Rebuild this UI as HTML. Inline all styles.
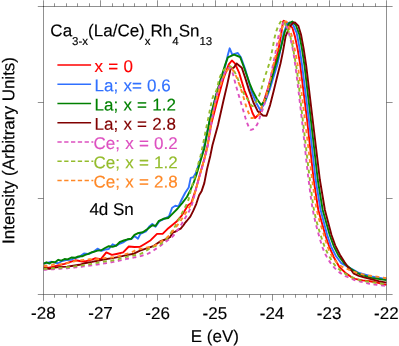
<!DOCTYPE html>
<html><head><meta charset="utf-8"><title>chart</title>
<style>
html,body{margin:0;padding:0;background:#fff;}
body{width:399px;height:346px;overflow:hidden;position:relative;font-family:"Liberation Sans",sans-serif;}
</style></head><body>
<svg width="399" height="346" viewBox="0 0 399 346" style="position:absolute;left:0;top:0;will-change:transform;transform:translateZ(0)">
<defs><clipPath id="cp"><rect x="43.5" y="6.5" width="343.6" height="288.0"/></clipPath></defs>
<g clip-path="url(#cp)" fill="none" stroke-width="1.9" stroke-linejoin="round">
<path d="M43.5,267.3 L48.3,267.8 L53.3,266.6 L59.5,265.0 L64.6,263.8 L68.9,262.3 L72.1,261.3 L75.2,260.3 L78.3,260.7 L82.1,261.5 L85.2,261.3 L89.0,260.3 L92.0,259.6 L95.0,258.3 L100.7,259.3 L106.3,252.4 L111.9,254.9 L117.6,253.7 L123.2,252.4 L128.8,246.5 L134.5,247.0 L140.0,246.8 L144.3,244.2 L150.7,240.2 L157.0,233.9 L162.6,233.9 L167.4,229.1 L172.1,225.2 L176.9,221.2 L181.7,215.6 L185.6,209.3 L188.0,205.3 L191.3,203.0 L195.6,190.1 L199.9,174.5 L204.3,158.9 L207.7,145.0 L211.0,125.0 L217.5,100.0 L223.6,78.1 L228.8,64.3 L231.9,60.5 L234.9,63.4 L239.2,72.9 L244.4,90.3 L247.3,97.3 L252.5,113.0 L255.1,118.0 L259.5,113.8 L263.8,101.5 L267.3,90.4 L270.3,80.0 L274.5,66.0 L278.8,48.0 L281.1,34.5 L283.1,21.5 L283.7,20.7 L288.0,23.8 L292.3,27.6 L294.9,36.3 L297.5,48.4 L300.1,64.0 L307.1,120.0 L313.7,180.0 L318.3,210.0 L325.3,235.0 L329.1,246.3 L333.8,257.2 L339.4,267.0 L346.0,273.4 L351.0,276.8 L355.0,278.9 L362.6,280.4 L370.0,281.2 L378.0,282.8 L386.4,284.8" stroke="#ff0000"/>
<path d="M43.5,263.5 L47.0,263.0 L50.8,261.8 L54.0,262.5 L58.3,263.2 L62.0,261.0 L66.0,260.0 L70.8,259.8 L75.0,258.0 L79.0,257.0 L84.0,253.5 L88.0,254.0 L90.0,253.5 L93.8,251.5 L97.5,248.7 L101.3,250.8 L105.0,249.5 L108.8,249.0 L112.6,244.3 L116.3,245.8 L120.1,243.5 L123.8,242.0 L127.6,239.5 L131.4,239.0 L134.5,236.0 L138.0,238.7 L140.4,233.9 L145.9,231.5 L149.1,226.7 L152.3,223.9 L155.5,226.7 L159.4,221.2 L164.2,218.8 L169.0,216.4 L172.1,207.7 L175.3,205.8 L178.5,206.4 L181.7,199.5 L185.2,192.7 L188.7,187.5 L190.7,177.9 L193.5,177.1 L195.6,173.6 L199.3,163.0 L203.3,150.0 L209.5,121.0 L216.1,95.0 L218.4,88.5 L225.3,66.0 L227.9,54.7 L229.7,48.3 L232.3,54.7 L237.8,53.0 L240.9,57.3 L245.3,69.5 L251.7,92.1 L256.0,102.5 L260.3,110.3 L262.9,106.0 L265.5,101.0 L269.7,89.5 L273.4,77.3 L277.2,65.2 L280.4,50.1 L283.7,32.8 L287.1,24.1 L289.7,22.4 L293.2,25.0 L296.7,32.8 L299.3,46.7 L301.9,64.0 L308.9,120.0 L315.7,180.0 L320.6,210.0 L327.2,235.0 L331.0,246.3 L335.7,255.7 L341.3,263.2 L348.8,267.3 L358.2,272.6 L371.4,276.4 L386.4,279.2" stroke="#3070ff"/>
<path d="M43.5,263.8 L46.4,262.3 L49.5,263.5 L52.0,261.9 L55.2,262.3 L58.3,259.8 L61.4,260.7 L64.6,259.0 L67.7,259.4 L71.4,257.5 L75.2,257.8 L78.3,256.5 L82.1,256.3 L85.2,254.8 L88.4,253.8 L92.0,252.2 L93.8,251.8 L97.5,250.6 L101.3,250.3 L105.0,248.0 L108.8,246.2 L112.6,246.8 L116.3,245.5 L120.1,241.8 L123.8,240.5 L127.6,239.3 L131.4,238.7 L134.5,234.9 L137.6,233.3 L142.8,232.3 L147.5,229.1 L152.3,225.2 L155.5,225.9 L158.6,221.2 L163.4,218.8 L168.2,218.0 L172.9,213.3 L177.7,208.5 L182.4,202.9 L186.9,197.0 L190.4,190.1 L193.5,183.1 L196.5,174.5 L199.1,165.8 L201.7,157.1 L204.3,148.5 L209.5,121.0 L216.1,95.0 L221.0,78.0 L225.3,64.3 L227.9,57.3 L234.0,54.7 L240.1,57.0 L243.5,66.0 L249.6,83.3 L252.5,90.4 L256.9,99.0 L261.3,105.1 L265.2,99.9 L268.7,89.5 L272.1,77.3 L275.6,65.2 L277.3,60.0 L281.1,46.7 L285.0,31.1 L288.9,23.3 L292.3,21.5 L295.8,25.0 L299.3,34.5 L301.9,48.4 L304.5,65.7 L310.9,120.0 L317.8,180.0 L322.7,210.0 L329.7,235.0 L333.8,246.3 L338.5,255.7 L344.1,263.2 L350.7,268.8 L360.1,274.5 L371.4,277.9 L386.4,280.1" stroke="#008000"/>
<path d="M43.5,268.2 L49.5,268.8 L54.5,267.6 L60.8,266.9 L67.0,266.6 L73.3,265.7 L79.6,264.8 L84.6,263.2 L92.0,261.9 L97.5,260.8 L105.0,259.3 L112.6,258.1 L120.1,256.6 L127.6,254.9 L133.9,253.7 L140.0,250.6 L147.5,248.2 L153.9,245.8 L160.0,241.5 L164.0,240.0 L167.5,238.7 L170.2,236.9 L172.8,232.5 L175.4,231.6 L178.1,229.9 L180.7,228.6 L183.3,225.5 L185.0,222.9 L186.7,221.0 L190.3,216.7 L193.2,210.9 L196.3,203.8 L199.1,195.3 L201.7,190.9 L204.3,183.1 L207.0,169.3 L210.4,155.4 L212.5,145.0 L218.0,125.0 L223.6,100.0 L227.1,85.1 L230.5,69.5 L234.0,67.4 L236.6,63.4 L241.8,67.7 L245.3,78.1 L249.1,90.4 L253.4,102.5 L257.7,111.2 L263.0,115.5 L266.5,115.8 L270.1,105.1 L273.6,91.2 L277.0,77.3 L280.5,63.5 L282.9,51.9 L285.6,36.3 L289.7,26.7 L293.2,22.7 L294.9,22.4 L298.4,25.9 L301.0,34.5 L303.6,48.4 L306.2,65.7 L312.7,120.0 L319.9,180.0 L324.9,210.0 L331.5,235.0 L335.2,245.3 L339.9,254.7 L344.5,262.0 L347.5,266.5 L351.3,270.3 L353.5,273.3 L358.8,275.9 L364.0,277.4 L370.0,278.9 L378.7,281.2 L386.4,282.6" stroke="#800000"/>
<path d="M43.5,269.8 L44.5,269.7 L45.5,269.7 L46.5,269.6 L47.5,269.6 L48.5,269.5 L49.5,269.4 L50.5,269.4 L51.5,269.3 L52.5,269.2 L53.5,269.2 L54.5,269.1 L55.5,269.0 L56.5,269.0 L57.5,268.9 L58.5,268.8 L59.5,268.8 L60.5,268.7 L61.5,268.6 L62.5,268.6 L63.5,268.5 L64.5,268.4 L65.5,268.3 L66.5,268.2 L67.5,268.2 L68.5,268.1 L69.5,268.0 L70.5,267.9 L71.5,267.8 L72.5,267.7 L73.5,267.6 L74.5,267.5 L75.5,267.4 L76.5,267.3 L77.5,267.1 L78.5,267.0 L79.5,266.9 L80.5,266.8 L81.5,266.7 L82.5,266.6 L83.5,266.4 L84.5,266.3 L85.5,266.2 L86.5,266.0 L87.5,265.9 L88.5,265.8 L89.5,265.6 L90.5,265.5 L91.5,265.4 L92.5,265.2 L93.5,265.1 L94.5,264.9 L95.5,264.8 L96.5,264.6 L97.5,264.5 L98.5,264.3 L99.5,264.2 L100.5,264.0 L101.5,263.9 L102.5,263.7 L103.5,263.5 L104.5,263.4 L105.5,263.2 L106.5,263.1 L107.5,262.9 L108.5,262.7 L109.5,262.6 L110.5,262.4 L111.5,262.2 L112.5,262.1 L113.5,261.9 L114.5,261.7 L115.5,261.5 L116.5,261.3 L117.5,261.1 L118.5,260.8 L119.5,260.6 L120.5,260.4 L121.5,260.1 L122.5,259.9 L123.5,259.6 L124.5,259.4 L125.5,259.2 L126.5,258.9 L127.5,258.7 L128.5,258.5 L129.5,258.3 L130.5,258.1 L131.5,257.9 L132.5,257.7 L133.5,257.6 L134.5,257.4 L135.5,257.2 L136.5,257.0 L137.5,256.8 L138.5,256.6 L139.5,256.3 L140.5,256.1 L141.5,255.8 L142.5,255.5 L143.5,255.2 L144.5,254.9 L145.5,254.6 L146.5,254.2 L147.5,253.8 L148.5,253.4 L149.5,252.9 L150.5,252.3 L151.5,251.7 L152.5,251.1 L153.5,250.5 L154.5,249.8 L155.5,249.1 L156.5,248.4 L157.5,247.7 L158.5,247.0 L159.5,246.3 L160.5,245.6 L161.5,244.9 L162.5,244.1 L163.5,243.3 L164.5,242.6 L165.5,241.8 L166.5,241.1 L167.5,240.4 L168.5,239.8 L169.5,239.1 L170.5,238.4 L171.5,237.6 L172.5,236.6 L173.5,235.5 L174.5,234.4 L175.5,233.2 L176.5,231.8 L177.5,230.3 L178.5,228.9 L179.5,227.4 L180.5,225.8 L181.5,224.3 L182.5,222.6 L183.5,220.9 L184.5,219.1 L185.5,217.4 L186.5,215.8 L187.5,214.2 L188.5,212.3 L189.5,210.3 L190.5,208.1 L191.5,205.6 L192.5,202.7 L193.5,199.0 L194.5,194.9 L195.5,190.9 L196.5,187.2 L197.5,183.5 L198.5,179.9 L199.5,176.4 L200.5,172.9 L201.5,169.6 L202.5,166.3 L203.5,162.9 L204.5,159.2 L205.5,155.4 L206.5,151.4 L207.5,146.9 L208.5,141.8 L209.5,135.7 L210.5,129.2 L211.5,122.9 L212.5,117.2 L213.5,111.5 L214.5,105.9 L215.5,100.7 L216.5,96.0 L217.5,92.0 L218.5,88.7 L219.5,85.9 L220.5,83.3 L221.5,80.9 L222.5,78.6 L223.5,76.1 L224.5,73.7 L225.5,71.7 L226.5,70.1 L227.5,69.0 L228.5,68.2 L229.5,67.7 L230.5,68.3 L231.5,70.2 L232.5,72.5 L233.5,76.0 L234.5,80.1 L235.5,83.8 L236.5,87.4 L237.5,90.9 L238.5,94.4 L239.5,97.8 L240.5,101.2 L241.5,104.5 L242.5,107.9 L243.5,111.2 L244.5,114.6 L245.5,118.1 L246.5,121.2 L247.5,123.8 L248.5,126.3 L249.5,128.6 L250.5,129.8 L251.5,129.7 L252.5,129.4 L253.5,128.9 L254.5,128.4 L255.5,127.3 L256.5,125.6 L257.5,123.7 L258.5,121.3 L259.5,118.3 L260.5,115.2 L261.5,112.5 L262.5,109.8 L263.5,107.0 L264.5,104.0 L265.5,100.4 L266.5,96.3 L267.5,92.0 L268.5,87.5 L269.5,82.8 L270.5,77.7 L271.5,72.4 L272.5,67.1 L273.5,62.0 L274.5,57.1 L275.5,52.4 L276.5,47.0 L277.5,41.2 L278.5,36.3 L279.5,32.5 L280.5,29.2 L281.5,26.6 L282.5,24.2 L283.5,22.6 L284.5,22.0 L285.5,23.2 L286.5,25.9 L287.5,28.7 L288.5,32.0 L289.5,35.6 L290.5,39.2 L291.5,43.1 L292.5,47.7 L293.5,53.3 L294.5,59.7 L295.5,66.9 L296.5,74.6 L297.5,82.6 L298.5,90.8 L299.5,99.3 L300.5,107.9 L301.5,116.5 L302.5,125.3 L303.5,134.3 L304.5,143.6 L305.5,152.9 L306.5,162.1 L307.5,170.9 L308.5,179.2 L309.5,187.1 L310.5,194.8 L311.5,202.0 L312.5,208.3 L313.5,213.6 L314.5,218.3 L315.5,222.6 L316.5,226.6 L317.5,230.3 L318.5,233.9 L319.5,237.5 L320.5,241.0 L321.5,244.3 L322.5,247.3 L323.5,250.0 L324.5,252.3 L325.5,254.5 L326.5,256.4 L327.5,258.2 L328.5,259.9 L329.5,261.4 L330.5,262.9 L331.5,264.2 L332.5,265.5 L333.5,266.7 L334.5,267.8 L335.5,268.8 L336.5,269.8 L337.5,270.7 L338.5,271.6 L339.5,272.4 L340.5,273.1 L341.5,273.8 L342.5,274.4 L343.5,275.0 L344.5,275.5 L345.5,276.1 L346.5,276.5 L347.5,277.0 L348.5,277.5 L349.5,277.9 L350.5,278.4 L351.5,278.8 L352.5,279.2 L353.5,279.6 L354.5,280.0 L355.5,280.3 L356.5,280.6 L357.5,280.9 L358.5,281.2 L359.5,281.4 L360.5,281.7 L361.5,281.9 L362.5,282.1 L363.5,282.3 L364.5,282.6 L365.5,282.8 L366.5,283.0 L367.5,283.3 L368.5,283.5 L369.5,283.7 L370.5,283.9 L371.5,284.0 L372.5,284.2 L373.5,284.3 L374.5,284.5 L375.5,284.6 L376.5,284.8 L377.5,284.9 L378.5,285.0 L379.5,285.2 L380.5,285.3 L381.5,285.4 L382.5,285.5 L383.5,285.6 L384.5,285.7 L385.5,285.7 L386.4,285.8" stroke="#dd50c0" stroke-dasharray="3.9 3.6"/>
<path d="M43.5,268.8 L44.5,268.8 L45.5,268.7 L46.5,268.7 L47.5,268.6 L48.5,268.5 L49.5,268.5 L50.5,268.4 L51.5,268.4 L52.5,268.3 L53.5,268.3 L54.5,268.2 L55.5,268.1 L56.5,268.1 L57.5,268.0 L58.5,267.9 L59.5,267.9 L60.5,267.8 L61.5,267.7 L62.5,267.7 L63.5,267.6 L64.5,267.5 L65.5,267.4 L66.5,267.3 L67.5,267.3 L68.5,267.2 L69.5,267.0 L70.5,266.9 L71.5,266.8 L72.5,266.7 L73.5,266.5 L74.5,266.4 L75.5,266.3 L76.5,266.1 L77.5,266.0 L78.5,265.9 L79.5,265.7 L80.5,265.6 L81.5,265.4 L82.5,265.3 L83.5,265.1 L84.5,265.0 L85.5,264.8 L86.5,264.7 L87.5,264.5 L88.5,264.4 L89.5,264.2 L90.5,264.1 L91.5,263.9 L92.5,263.7 L93.5,263.5 L94.5,263.3 L95.5,263.1 L96.5,262.9 L97.5,262.7 L98.5,262.5 L99.5,262.3 L100.5,262.2 L101.5,262.0 L102.5,261.8 L103.5,261.6 L104.5,261.5 L105.5,261.4 L106.5,261.2 L107.5,261.1 L108.5,261.0 L109.5,260.8 L110.5,260.7 L111.5,260.6 L112.5,260.4 L113.5,260.3 L114.5,260.1 L115.5,259.9 L116.5,259.7 L117.5,259.4 L118.5,259.2 L119.5,258.9 L120.5,258.6 L121.5,258.3 L122.5,258.0 L123.5,257.7 L124.5,257.4 L125.5,257.1 L126.5,256.9 L127.5,256.6 L128.5,256.4 L129.5,256.2 L130.5,256.0 L131.5,255.8 L132.5,255.6 L133.5,255.5 L134.5,255.3 L135.5,255.1 L136.5,254.9 L137.5,254.7 L138.5,254.4 L139.5,254.1 L140.5,253.8 L141.5,253.4 L142.5,252.9 L143.5,252.4 L144.5,251.8 L145.5,251.2 L146.5,250.5 L147.5,249.9 L148.5,249.2 L149.5,248.6 L150.5,248.0 L151.5,247.5 L152.5,247.1 L153.5,246.7 L154.5,246.4 L155.5,246.0 L156.5,245.7 L157.5,245.3 L158.5,244.9 L159.5,244.5 L160.5,243.9 L161.5,243.2 L162.5,242.5 L163.5,241.7 L164.5,240.8 L165.5,239.9 L166.5,238.9 L167.5,237.8 L168.5,236.5 L169.5,235.1 L170.5,233.5 L171.5,231.9 L172.5,230.4 L173.5,228.8 L174.5,227.2 L175.5,225.6 L176.5,223.9 L177.5,222.2 L178.5,220.3 L179.5,218.3 L180.5,216.2 L181.5,214.2 L182.5,212.2 L183.5,210.3 L184.5,208.4 L185.5,206.4 L186.5,204.4 L187.5,202.3 L188.5,199.7 L189.5,195.9 L190.5,191.5 L191.5,187.6 L192.5,184.3 L193.5,181.3 L194.5,178.2 L195.5,174.8 L196.5,170.9 L197.5,166.9 L198.5,163.0 L199.5,159.5 L200.5,156.0 L201.5,151.9 L202.5,147.0 L203.5,142.0 L204.5,136.9 L205.5,131.8 L206.5,126.8 L207.5,122.0 L208.5,117.1 L209.5,112.0 L210.5,106.9 L211.5,102.3 L212.5,98.3 L213.5,95.4 L214.5,93.8 L215.5,92.5 L216.5,90.1 L217.5,86.3 L218.5,81.9 L219.5,78.0 L220.5,75.6 L221.5,73.6 L222.5,72.0 L223.5,70.5 L224.5,69.4 L225.5,68.4 L226.5,67.6 L227.5,66.8 L228.5,66.3 L229.5,66.0 L230.5,66.3 L231.5,67.3 L232.5,68.7 L233.5,70.1 L234.5,71.7 L235.5,73.6 L236.5,75.7 L237.5,78.0 L238.5,80.7 L239.5,83.7 L240.5,86.7 L241.5,89.1 L242.5,91.2 L243.5,93.0 L244.5,94.7 L245.5,96.3 L246.5,97.8 L247.5,99.3 L248.5,101.0 L249.5,102.8 L250.5,104.4 L251.5,105.6 L252.5,106.0 L253.5,105.9 L254.5,105.1 L255.5,103.4 L256.5,101.4 L257.5,99.3 L258.5,97.1 L259.5,94.6 L260.5,91.8 L261.5,88.6 L262.5,84.9 L263.5,81.2 L264.5,77.8 L265.5,74.9 L266.5,72.0 L267.5,69.0 L268.5,65.9 L269.5,62.6 L270.5,58.8 L271.5,54.0 L272.5,48.9 L273.5,43.5 L274.5,38.0 L275.5,33.8 L276.5,30.6 L277.5,27.9 L278.5,25.7 L279.5,23.7 L280.5,21.9 L281.5,21.0 L282.5,20.7 L283.5,21.1 L284.5,22.7 L285.5,25.0 L286.5,27.1 L287.5,29.1 L288.5,31.3 L289.5,33.9 L290.5,37.2 L291.5,41.3 L292.5,45.8 L293.5,51.0 L294.5,56.6 L295.5,62.1 L296.5,67.9 L297.5,74.8 L298.5,82.6 L299.5,91.1 L300.5,99.9 L301.5,108.8 L302.5,117.5 L303.5,125.9 L304.5,134.5 L305.5,143.2 L306.5,151.8 L307.5,160.4 L308.5,168.7 L309.5,176.9 L310.5,184.8 L311.5,192.8 L312.5,200.5 L313.5,207.2 L314.5,212.5 L315.5,217.0 L316.5,221.1 L317.5,224.8 L318.5,228.2 L319.5,231.5 L320.5,234.7 L321.5,237.8 L322.5,240.8 L323.5,243.6 L324.5,246.3 L325.5,248.7 L326.5,250.9 L327.5,253.0 L328.5,254.9 L329.5,256.7 L330.5,258.4 L331.5,260.1 L332.5,261.7 L333.5,263.2 L334.5,264.6 L335.5,265.8 L336.5,266.8 L337.5,267.8 L338.5,268.7 L339.5,269.6 L340.5,270.4 L341.5,271.1 L342.5,271.8 L343.5,272.5 L344.5,273.2 L345.5,273.9 L346.5,274.5 L347.5,275.1 L348.5,275.6 L349.5,276.1 L350.5,276.6 L351.5,277.1 L352.5,277.5 L353.5,277.9 L354.5,278.3 L355.5,278.7 L356.5,279.0 L357.5,279.4 L358.5,279.7 L359.5,280.0 L360.5,280.2 L361.5,280.4 L362.5,280.6 L363.5,280.8 L364.5,281.0 L365.5,281.2 L366.5,281.4 L367.5,281.5 L368.5,281.7 L369.5,281.8 L370.5,282.0 L371.5,282.1 L372.5,282.3 L373.5,282.4 L374.5,282.6 L375.5,282.7 L376.5,282.9 L377.5,283.0 L378.5,283.2 L379.5,283.3 L380.5,283.4 L381.5,283.6 L382.5,283.7 L383.5,283.8 L384.5,284.0 L385.5,284.1 L386.4,284.2" stroke="#94bc2c" stroke-dasharray="3.9 3.6"/>
<path d="M43.5,265.7 L44.5,265.7 L45.5,265.7 L46.5,265.7 L47.5,265.7 L48.5,265.7 L49.5,265.7 L50.5,265.6 L51.5,265.2 L52.5,264.9 L53.5,264.5 L54.5,264.4 L55.5,264.4 L56.5,264.4 L57.5,264.4 L58.5,264.4 L59.5,264.4 L60.5,264.4 L61.5,264.4 L62.5,264.3 L63.5,264.1 L64.5,263.8 L65.5,263.6 L66.5,263.3 L67.5,263.1 L68.5,262.8 L69.5,262.5 L70.5,262.2 L71.5,261.9 L72.5,261.7 L73.5,261.5 L74.5,261.3 L75.5,261.1 L76.5,261.0 L77.5,260.8 L78.5,260.7 L79.5,260.5 L80.5,260.4 L81.5,260.2 L82.5,260.1 L83.5,259.9 L84.5,259.8 L85.5,259.7 L86.5,259.6 L87.5,259.5 L88.5,259.4 L89.5,259.3 L90.5,259.2 L91.5,259.2 L92.5,259.2 L93.5,259.2 L94.5,259.2 L95.5,259.3 L96.5,259.3 L97.5,259.3 L98.5,259.2 L99.5,259.1 L100.5,258.9 L101.5,258.7 L102.5,258.5 L103.5,258.2 L104.5,258.1 L105.5,257.9 L106.5,257.9 L107.5,257.8 L108.5,257.7 L109.5,257.7 L110.5,257.6 L111.5,257.5 L112.5,257.4 L113.5,257.3 L114.5,257.1 L115.5,256.9 L116.5,256.7 L117.5,256.5 L118.5,256.3 L119.5,256.0 L120.5,255.7 L121.5,255.4 L122.5,255.1 L123.5,254.8 L124.5,254.5 L125.5,254.2 L126.5,253.9 L127.5,253.6 L128.5,253.3 L129.5,253.0 L130.5,252.7 L131.5,252.4 L132.5,251.9 L133.5,251.3 L134.5,250.8 L135.5,250.3 L136.5,249.9 L137.5,249.6 L138.5,249.3 L139.5,249.1 L140.5,248.9 L141.5,248.7 L142.5,248.4 L143.5,248.2 L144.5,248.1 L145.5,247.9 L146.5,247.7 L147.5,247.5 L148.5,247.3 L149.5,247.0 L150.5,246.8 L151.5,246.5 L152.5,246.3 L153.5,245.9 L154.5,245.6 L155.5,245.1 L156.5,244.6 L157.5,243.9 L158.5,243.3 L159.5,242.6 L160.5,241.9 L161.5,241.2 L162.5,240.5 L163.5,239.9 L164.5,239.2 L165.5,238.5 L166.5,237.7 L167.5,236.9 L168.5,236.0 L169.5,235.0 L170.5,233.9 L171.5,232.6 L172.5,231.4 L173.5,230.1 L174.5,228.9 L175.5,227.7 L176.5,226.5 L177.5,225.2 L178.5,223.9 L179.5,222.5 L180.5,221.1 L181.5,219.5 L182.5,218.0 L183.5,216.4 L184.5,214.8 L185.5,213.3 L186.5,211.7 L187.5,210.1 L188.5,208.5 L189.5,207.0 L190.5,205.4 L191.5,203.5 L192.5,200.8 L193.5,197.5 L194.5,194.0 L195.5,190.4 L196.5,187.0 L197.5,183.3 L198.5,179.6 L199.5,175.9 L200.5,172.4 L201.5,168.9 L202.5,165.4 L203.5,161.9 L204.5,158.1 L205.5,154.4 L206.5,150.5 L207.5,146.0 L208.5,140.0 L209.5,132.4 L210.5,125.0 L211.5,119.4 L212.5,114.6 L213.5,110.2 L214.5,106.1 L215.5,102.3 L216.5,98.6 L217.5,95.0 L218.5,91.7 L219.5,88.4 L220.5,85.1 L221.5,81.9 L222.5,79.0 L223.5,76.6 L224.5,74.6 L225.5,72.8 L226.5,71.3 L227.5,70.0 L228.5,69.0 L229.5,68.1 L230.5,67.7 L231.5,68.2 L232.5,69.5 L233.5,71.2 L234.5,72.8 L235.5,74.8 L236.5,77.1 L237.5,79.6 L238.5,82.1 L239.5,84.9 L240.5,87.8 L241.5,90.9 L242.5,94.0 L243.5,97.2 L244.5,100.6 L245.5,104.1 L246.5,107.3 L247.5,110.0 L248.5,112.6 L249.5,115.1 L250.5,117.1 L251.5,118.1 L252.5,118.0 L253.5,117.6 L254.5,117.2 L255.5,116.8 L256.5,116.3 L257.5,115.6 L258.5,114.8 L259.5,113.2 L260.5,110.6 L261.5,107.6 L262.5,105.0 L263.5,102.8 L264.5,100.4 L265.5,97.8 L266.5,94.5 L267.5,90.6 L268.5,86.6 L269.5,82.9 L270.5,79.0 L271.5,74.5 L272.5,69.6 L273.5,64.7 L274.5,60.4 L275.5,56.5 L276.5,52.7 L277.5,48.5 L278.5,43.9 L279.5,39.3 L280.5,35.0 L281.5,30.5 L282.5,26.7 L283.5,24.2 L284.5,22.2 L285.5,21.5 L286.5,21.5 L287.5,23.0 L288.5,25.7 L289.5,28.7 L290.5,31.7 L291.5,35.0 L292.5,38.8 L293.5,43.2 L294.5,48.1 L295.5,53.1 L296.5,58.3 L297.5,64.0 L298.5,70.4 L299.5,77.3 L300.5,84.6 L301.5,92.3 L302.5,100.2 L303.5,108.1 L304.5,116.1 L305.5,124.0 L306.5,132.2 L307.5,140.6 L308.5,149.2 L309.5,157.7 L310.5,166.0 L311.5,174.0 L312.5,181.5 L313.5,188.9 L314.5,196.1 L315.5,202.8 L316.5,208.5 L317.5,213.1 L318.5,217.2 L319.5,220.8 L320.5,224.1 L321.5,227.2 L322.5,230.3 L323.5,233.4 L324.5,236.7 L325.5,240.0 L326.5,243.3 L327.5,246.3 L328.5,248.9 L329.5,251.2 L330.5,253.4 L331.5,255.3 L332.5,257.0 L333.5,258.5 L334.5,259.9 L335.5,261.2 L336.5,262.4 L337.5,263.5 L338.5,264.4 L339.5,265.2 L340.5,265.8 L341.5,266.4 L342.5,266.9 L343.5,267.3 L344.5,267.7 L345.5,268.2 L346.5,268.6 L347.5,269.0 L348.5,269.5 L349.5,269.9 L350.5,270.3 L351.5,270.8 L352.5,271.2 L353.5,271.6 L354.5,272.0 L355.5,272.3 L356.5,272.6 L357.5,272.9 L358.5,273.2 L359.5,273.5 L360.5,273.8 L361.5,274.1 L362.5,274.3 L363.5,274.6 L364.5,274.8 L365.5,275.0 L366.5,275.2 L367.5,275.4 L368.5,275.6 L369.5,275.7 L370.5,275.8 L371.5,276.0 L372.5,276.1 L373.5,276.2 L374.5,276.4 L375.5,276.5 L376.5,276.6 L377.5,276.8 L378.5,276.9 L379.5,277.1 L380.5,277.2 L381.5,277.4 L382.5,277.6 L383.5,277.7 L384.5,277.9 L385.5,278.0 L386.4,278.2" stroke="#ff8826" stroke-dasharray="3.9 3.6"/>
</g>
<g stroke="#222" stroke-width="0.5" fill="none">
<rect x="43.5" y="6.5" width="343.0" height="288.0"/>
<path d="M43.5,294.5v6.2 M43.5,6.5v-6.2 M54.5,294.5v3.2 M54.5,6.5v-3.2 M66.5,294.5v3.2 M66.5,6.5v-3.2 M77.5,294.5v3.2 M77.5,6.5v-3.2 M89.5,294.5v3.2 M89.5,6.5v-3.2 M100.5,294.5v6.2 M100.5,6.5v-6.2 M112.5,294.5v3.2 M112.5,6.5v-3.2 M123.5,294.5v3.2 M123.5,6.5v-3.2 M134.5,294.5v3.2 M134.5,6.5v-3.2 M146.5,294.5v3.2 M146.5,6.5v-3.2 M157.5,294.5v6.2 M157.5,6.5v-6.2 M169.5,294.5v3.2 M169.5,6.5v-3.2 M180.5,294.5v3.2 M180.5,6.5v-3.2 M192.5,294.5v3.2 M192.5,6.5v-3.2 M203.5,294.5v3.2 M203.5,6.5v-3.2 M215.5,294.5v6.2 M215.5,6.5v-6.2 M226.5,294.5v3.2 M226.5,6.5v-3.2 M237.5,294.5v3.2 M237.5,6.5v-3.2 M249.5,294.5v3.2 M249.5,6.5v-3.2 M260.5,294.5v3.2 M260.5,6.5v-3.2 M272.5,294.5v6.2 M272.5,6.5v-6.2 M283.5,294.5v3.2 M283.5,6.5v-3.2 M295.5,294.5v3.2 M295.5,6.5v-3.2 M306.5,294.5v3.2 M306.5,6.5v-3.2 M317.5,294.5v3.2 M317.5,6.5v-3.2 M329.5,294.5v6.2 M329.5,6.5v-6.2 M340.5,294.5v3.2 M340.5,6.5v-3.2 M352.5,294.5v3.2 M352.5,6.5v-3.2 M363.5,294.5v3.2 M363.5,6.5v-3.2 M375.5,294.5v3.2 M375.5,6.5v-3.2 M386.5,294.5v6.2 M386.5,6.5v-6.2 M43.5,6.5h-5.7 M386.5,6.5h6.1 M43.5,102.5h-5.7 M386.5,102.5h6.1 M43.5,198.5h-5.7 M386.5,198.5h6.1 M43.5,294.5h-5.7 M386.5,294.5h6.1"/>
</g>
<g stroke-width="1.5" fill="none">
<path d="M57.4,65.1H91.1" stroke="#ff0000"/>
<path d="M57.4,84.3H91.1" stroke="#3070ff"/>
<path d="M57.4,103.6H91.1" stroke="#008000"/>
<path d="M57.4,122.8H91.1" stroke="#800000"/>
<path d="M57.4,142.1H93.3" stroke="#dd50c0" stroke-dasharray="4.3 2.5"/>
<path d="M57.4,161.3H93.3" stroke="#94bc2c" stroke-dasharray="4.3 2.5"/>
<path d="M57.4,180.6H93.3" stroke="#ff8826" stroke-dasharray="4.3 2.5"/>
</g>
<g font-family="Liberation Sans, sans-serif" font-size="17px" stroke="#000" stroke-width="0.15" transform="rotate(0.03)">
<text x="94.6" y="71.9" fill="#ff0000" stroke="#ff0000" word-spacing="0.5">x = 0</text>
<text x="94.6" y="91.2" fill="#3070ff" stroke="#3070ff" word-spacing="0.5">La; x= 0.6</text>
<text x="94.6" y="110.4" fill="#008000" stroke="#008000" word-spacing="0.5">La; x = 1.2</text>
<text x="94.6" y="129.7" fill="#800000" stroke="#800000" word-spacing="0.5">La; x = 2.8</text>
<text x="93.6" y="148.9" fill="#dd50c0" stroke="#dd50c0" word-spacing="0.5">Ce; x = 0.2</text>
<text x="93.6" y="168.2" fill="#94bc2c" stroke="#94bc2c" word-spacing="0.5">Ce; x = 1.2</text>
<text x="93.6" y="187.4" fill="#ff8826" stroke="#ff8826" word-spacing="0.5">Ce; x = 2.8</text>
<text x="89.5" y="214.9" fill="#000">4d Sn</text>
<text x="50.4" y="36.3" fill="#000">Ca<tspan font-size="11.5px" dy="8.7">3-x</tspan><tspan dy="-8.7">(La/Ce)</tspan><tspan font-size="11.5px" dy="8.7">x</tspan><tspan dy="-8.7">Rh</tspan><tspan font-size="11.5px" dy="8.7">4</tspan><tspan dy="-8.7">Sn</tspan><tspan font-size="11.5px" dy="8.7">13</tspan></text>
<text x="43.5" y="318.8" text-anchor="middle" fill="#000">-28</text>
<text x="100.7" y="318.8" text-anchor="middle" fill="#000">-27</text>
<text x="157.8" y="318.8" text-anchor="middle" fill="#000">-26</text>
<text x="215.0" y="318.8" text-anchor="middle" fill="#000">-25</text>
<text x="272.2" y="318.8" text-anchor="middle" fill="#000">-24</text>
<text x="329.3" y="318.8" text-anchor="middle" fill="#000">-23</text>
<text x="386.5" y="318.8" text-anchor="middle" fill="#000">-22</text>
<text x="215.0" y="341.9" text-anchor="middle" fill="#000">E (eV)</text>
<text transform="translate(14.3,150.5) rotate(-90)" text-anchor="middle" fill="#000">Intensity (Arbitrary Units)</text>
</g>
</svg>
</body></html>
